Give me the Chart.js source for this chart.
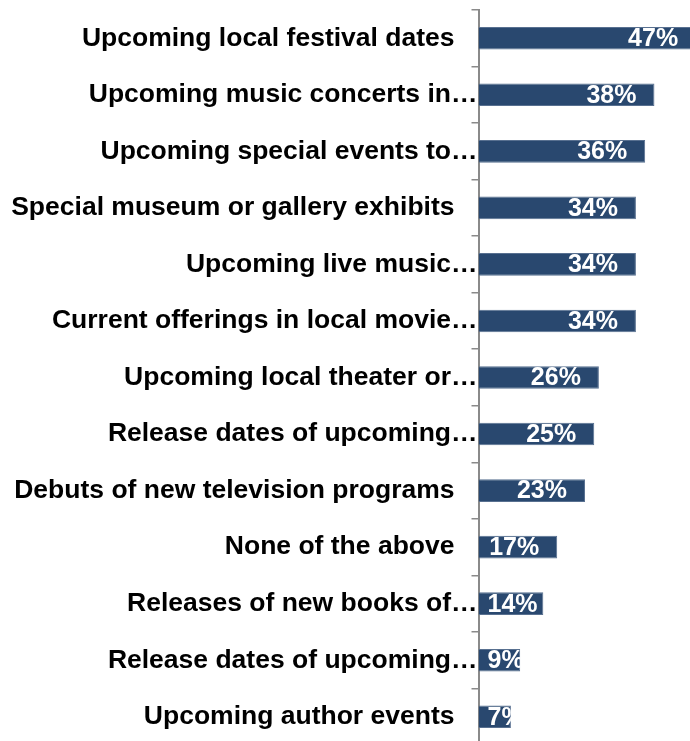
<!DOCTYPE html>
<html>
<head>
<meta charset="utf-8">
<script src="https://cdn.jsdelivr.net/npm/chart.js@4.4.1/dist/chart.umd.min.js"></script>
<style>
  html, body { margin: 0; padding: 0; background: #fff; overflow: hidden; }
  #wrap { position: absolute; left: 0; top: 0; width: 710px; height: 745px; }
</style>
</head>
<body>
<div id="wrap"><canvas id="chart"></canvas></div>
<script>
var kategorien = [
  "Upcoming local festival dates",
  "Upcoming music concerts in…",
  "Upcoming special events to…",
  "Special museum or gallery exhibits",
  "Upcoming live music…",
  "Current offerings in local movie…",
  "Upcoming local theater or…",
  "Release dates of upcoming…",
  "Debuts of new television programs",
  "None of the above",
  "Releases of new books of…",
  "Release dates of upcoming…",
  "Upcoming author events"
];
var werte = [47, 38, 36, 34, 34, 34, 26, 25, 23, 17, 14, 9, 7];

var schriftNamen = 'bold 26.5px "Liberation Sans", Arial, sans-serif';
var schriftWerte = 'bold 25px "Liberation Sans", Arial, sans-serif';

// Kategorienamen links neben der Achse
var namenPlugin = {
  id: 'namen',
  afterDraw: function(chart) {
    var ctx = chart.ctx;
    var y = chart.scales.y;
    ctx.save();
    ctx.font = schriftNamen;
    ctx.fillStyle = '#000';
    ctx.textAlign = 'right';
    ctx.textBaseline = 'middle';
    kategorien.forEach(function(name, i) {
      var abstand = name.slice(-1) === '…' ? 1 : 24;
      ctx.fillText(name, chart.chartArea.left - abstand, y.getPixelForValue(i));
    });
    ctx.restore();
  }
};

// Prozentwerte weiss am Balkenende
var wertePlugin = {
  id: 'werte',
  afterDatasetsDraw: function(chart) {
    var ctx = chart.ctx;
    var meta = chart.getDatasetMeta(0);
    ctx.save();
    ctx.font = schriftWerte;
    ctx.fillStyle = '#fff';
    ctx.textAlign = 'left';
    ctx.textBaseline = 'middle';
    meta.data.forEach(function(bar, i) {
      var text = werte[i] + '%';
      var w = ctx.measureText(text).width;
      var links = bar.x - 18 - w;
      if (links < bar.base + 9) links = bar.base + 9;
      ctx.save();
      ctx.beginPath();
      ctx.rect(bar.base, bar.y - bar.height / 2, bar.x - bar.base, bar.height);
      ctx.clip();
      ctx.fillText(text, links, bar.y + 1);
      ctx.restore();
    });
    ctx.restore();
  }
};

var ctx = document.getElementById('chart').getContext('2d');
var chart = new Chart(ctx, {
  type: 'bar',
  data: {
    labels: kategorien,
    datasets: [{
      data: werte,
      backgroundColor: '#29486f',
      borderColor: '#587090',
      borderWidth: 1,
      borderSkipped: 'left',
      categoryPercentage: 1,
      barPercentage: 0.4
    }]
  },
  options: {
    indexAxis: 'y',
    responsive: true,
    maintainAspectRatio: false,
    animation: false,
    layout: { padding: { top: 10, right: 0, bottom: 0, left: 0 } },
    plugins: {
      legend: { display: false },
      tooltip: { enabled: false }
    },
    scales: {
      x: {
        display: false,
        min: 0,
        max: 50
      },
      y: {
        afterFit: function(scale) { scale.width = 478.5; },
        ticks: { display: false },
        grid: {
          offset: true,
          drawOnChartArea: false,
          drawTicks: true,
          tickLength: 7,
          color: '#8a8a8a',
          lineWidth: 1.5
        },
        border: { display: true, color: '#8a8a8a', width: 2 }
      }
    }
  },
  plugins: [namenPlugin, wertePlugin]
});
</script>
</body>
</html>
